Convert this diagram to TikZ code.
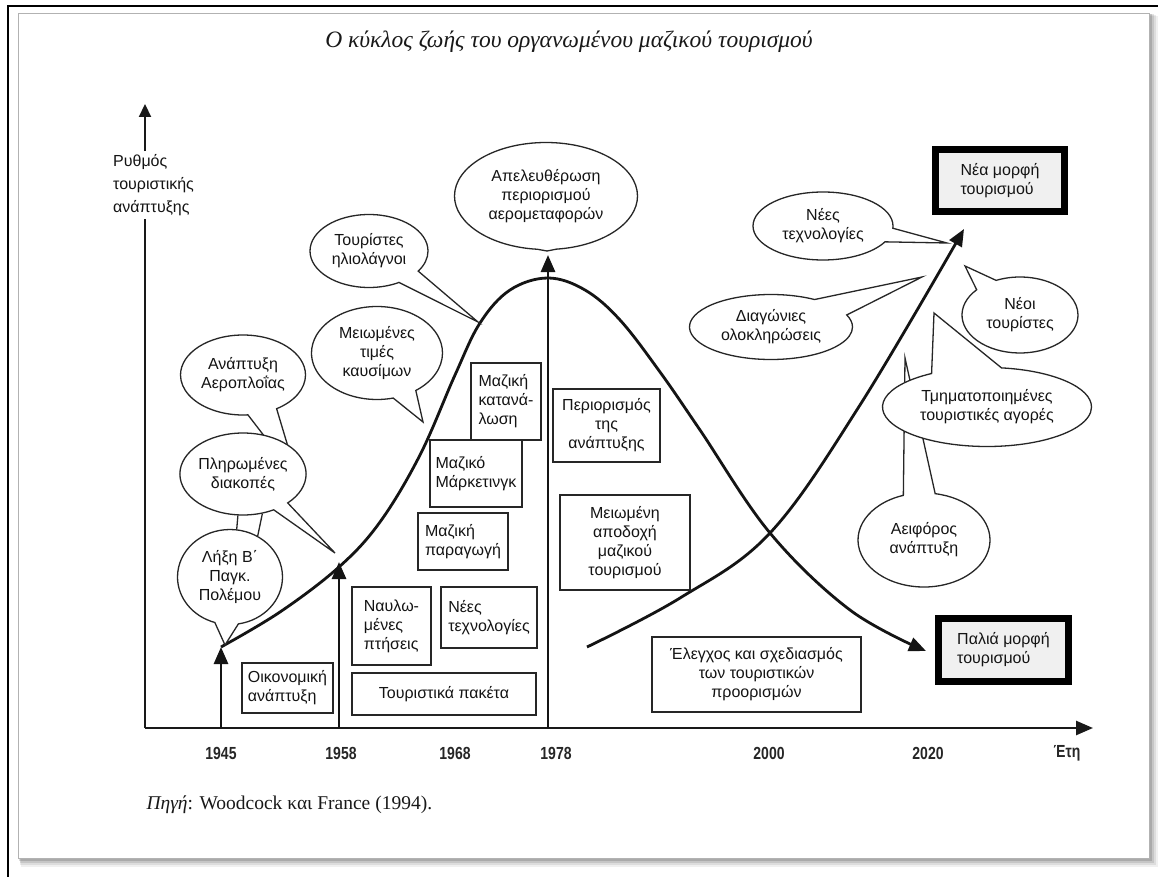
\documentclass[tikz,border=0pt]{standalone}
\usepackage{fontspec}
\setmainfont{Liberation Sans}
\newfontfamily\titlefont{Liberation Serif}
\newfontfamily\yearfont[FakeStretch=0.8]{Liberation Sans}
\usetikzlibrary{arrows.meta,shapes.geometric,shapes.callouts}

\begin{document}
\begin{tikzpicture}[x=1pt,y=-1pt,
  txt/.style={font=\fontsize{16}{19}\selectfont, text=black!92, align=center},
  bubble/.style={ellipse callout, draw=black!85, line width=1.3pt, fill=white, inner sep=0pt, txt},
  tagbox/.style={draw=black!85, line width=1.2pt, fill=white, inner sep=0pt, txt},
  formbox/.style={draw=black, line width=6.5pt, fill=black!6, inner sep=0pt, txt},
  bigline/.style={line width=2.8pt, draw=black!92},
  tip/.style={-{Triangle[length=17pt,width=14pt]}},
  year/.style={font=\yearfont\bfseries\fontsize{17.5}{19}\selectfont, text=black!85},
]
\useasboundingbox (0,0) rectangle (1158,877);

% page and framed picture with a soft shadow
\fill[white] (0,0) rectangle (1158,877);
\foreach \d/\o in {9/0.06,7/0.08,5/0.10,3/0.14}
  \fill[black, opacity=\o] (18+\d*0.3,13+\d*0.3) rectangle (1149+\d,858+\d);
\fill[white] (18,13) rectangle (1149,858);
\draw[black!30, line width=0.8pt] (18,13) rectangle (1149,858);
\draw[black, line width=2pt] (8,877) -- (8,6) -- (1158,6);

% title and source
\node[font=\titlefont\itshape\fontsize{23.5}{27}\selectfont, text=black!90] (title) at (569,42)
  {Ο κύκλος ζωής του οργανωμένου μαζικού τουρισμού};
\node[font=\titlefont\fontsize{19.5}{22}\selectfont, text=black!90, anchor=west] (source) at (143,805)
  {\textit{Πηγή}: Woodcock και France (1994).};

% axes
\coordinate (origin) at (145,728);
\coordinate (ytop) at (145,104);
\coordinate (xend) at (1093,728);
\node[txt, align=left, anchor=west, inner sep=3pt, font=\fontsize{16}{23}\selectfont] (ylab) at (110,185)
  {Ρυθμός\\τουριστικής\\ανάπτυξης};
\draw[line width=2.2pt, black!90] (origin) -- (origin |- ylab.south);
\draw[line width=2.2pt, black!90, -{Triangle[length=13pt,width=12pt]}] (origin |- ylab.north) -- (ytop);
\draw[line width=2.6pt, black!90, tip] (origin) -- (xend);

\node[year] (y1945) at (221,753) {1945};
\node[year] (y1958) at (341,753) {1958};
\node[year] (y1968) at (455,753) {1968};
\node[year] (y1978) at (556,753) {1978};
\node[year] (y2000) at (769,753) {2000};
\node[year] (y2020) at (928,753) {2020};
\node[year] (years) at (1067,753) {Έτη};

% milestone arrows on the time axis
\coordinate (b1945) at (221,728);
\coordinate (b1958) at (339,728);
\coordinate (b1978) at (548,728);
\coordinate (t1945) at (221,647);
\coordinate (t1958) at (339,562);
\coordinate (t1978) at (548,255);
\draw[bigline, tip] (b1945) -- (t1945);
\draw[bigline, tip] (b1958) -- (t1958);
\draw[bigline, tip] (b1978) -- (t1978);

% life cycle of organised mass tourism
\coordinate (oldend) at (926,651);
\draw[bigline, tip] plot[smooth, tension=0.6] coordinates {
  (221,647) (280,612) (339,567) (380,522) (420,455) (455,375) (480,323)
  (510,290) (548,278) (585,290) (620,320) (660,372) (700,430) (770,533)
  (850,610) (oldend)};

% rise of the new form of tourism
\coordinate (newstart) at (587,647);
\coordinate (newend) at (964,229);
\draw[bigline, tip] plot[smooth, tension=0.6] coordinates {
  (newstart) (680,598) (770,533) (860,405) (newend)};

% factor boxes
\node[tagbox, align=left, minimum width=91pt, minimum height=50pt] (oik) at (287.5,688) {Οικονομική\\ανάπτυξη};
\node[tagbox, align=left, minimum width=79pt, minimum height=78pt] (nav) at (391.5,626) {Ναυλω-\\μένες\\πτήσεις};
\node[tagbox, minimum width=184pt, minimum height=42pt] (pak) at (444,694) {Τουριστικά πακέτα};
\node[tagbox, align=left, minimum width=96pt, minimum height=61pt] (nte) at (489,617.5) {Νέες\\τεχνολογίες};
\node[tagbox, align=left, minimum width=90pt, minimum height=57pt] (par) at (463,541.5) {Μαζική\\παραγωγή};
\node[tagbox, align=left, minimum width=92pt, minimum height=67pt] (mar) at (476,473.5) {Μαζικό\\Μάρκετινγκ};
\node[tagbox, align=left, minimum width=70pt, minimum height=77pt] (kat) at (506,401.5) {Μαζική\\κατανά-\\λωση};
\node[tagbox, minimum width=107pt, minimum height=73pt] (per) at (606.5,425.5) {Περιορισμός\\της\\ανάπτυξης};
\node[tagbox, minimum width=130pt, minimum height=95pt] (mei) at (625,542.5) {Μειωμένη\\αποδοχή\\μαζικού\\τουρισμού};
\node[tagbox, minimum width=209pt, minimum height=75pt] (ele) at (756.5,674.5) {Έλεγχος και σχεδιασμός\\των τουριστικών\\προορισμών};

% old and new form of tourism
\node[formbox, align=left, minimum width=130pt, minimum height=63pt] (old) at (1003.5,650) {Παλιά μορφή\\τουρισμού};
\node[formbox, align=left, minimum width=129pt, minimum height=62pt] (new) at (1000,180.5) {Νέα μορφή\\τουρισμού};

% speech bubbles, left part of the cycle
\coordinate (pAnap) at (298,480);
\node[bubble, minimum width=125pt, minimum height=80pt, callout absolute pointer={(pAnap)}, callout pointer arc=28]
  (anap) at (243,375) {Ανάπτυξη\\Αεροπλοΐας};
\coordinate (pMeio) at (423,422);
\node[bubble, minimum width=131pt, minimum height=93pt, callout absolute pointer={(pMeio)}, callout pointer arc=22]
  (meio) at (377,353) {Μειωμένες\\τιμές\\καυσίμων};
\coordinate (pPlir) at (335,553);
\node[bubble, minimum width=121pt, minimum height=82pt, callout absolute pointer={(pPlir)}, callout pointer arc=16]
  (plir) at (243,474) {Πληρωμένες\\διακοπές};
\coordinate (pLixi) at (225,645);
\node[bubble, minimum width=105pt, minimum height=95pt, callout absolute pointer={(pLixi)}, callout pointer arc=26]
  (lixi) at (230,577) {Λήξη Β΄\\Παγκ.\\Πολέμου};
\draw[black!85, line width=1.3pt] (plir.263) -- (lixi.82);
\draw[black!85, line width=1.3pt] (plir.296) -- (lixi.56);
\coordinate (pTuri) at (478,322);
\node[bubble, minimum width=118pt, minimum height=73pt, callout absolute pointer={(pTuri)}, callout pointer arc=26]
  (turi) at (369,251) {Τουρίστες\\ηλιολάγνοι};
\coordinate (pApel) at (547,251);
\node[bubble, minimum width=183pt, minimum height=107pt, callout absolute pointer={(pApel)}, callout pointer arc=12]
  (apel) at (546,196) {Απελευθέρωση\\περιορισμού\\αερομεταφορών};

% speech bubbles, right part of the cycle
\coordinate (pAeif) at (905,358);
\node[bubble, minimum width=132pt, minimum height=94pt, callout absolute pointer={(pAeif)}, callout pointer arc=28]
  (aeif) at (924,540) {Αειφόρος\\ανάπτυξη};
\coordinate (pTmim) at (934,313);
\node[bubble, minimum width=209pt, minimum height=79pt, callout absolute pointer={(pTmim)}, callout pointer arc=40]
  (tmim) at (987,407) {Τμηματοποιημένες\\τουριστικές αγορές};
\coordinate (pNeoi) at (965,266);
\node[bubble, minimum width=116pt, minimum height=76pt, callout absolute pointer={(pNeoi)}, callout pointer arc=24]
  (neoi) at (1020,315) {Νέοι\\τουρίστες};
\coordinate (pDiag) at (922,277);
\node[bubble, minimum width=163pt, minimum height=65pt, callout absolute pointer={(pDiag)}, callout pointer arc=36]
  (diag) at (771,327) {Διαγώνιες\\ολοκληρώσεις};
\coordinate (pNtex) at (947,243);
\node[bubble, minimum width=140pt, minimum height=68pt, callout absolute pointer={(pNtex)}, callout pointer arc=24]
  (ntex) at (823,226) {Νέες\\τεχνολογίες};
\end{tikzpicture}
\end{document}
